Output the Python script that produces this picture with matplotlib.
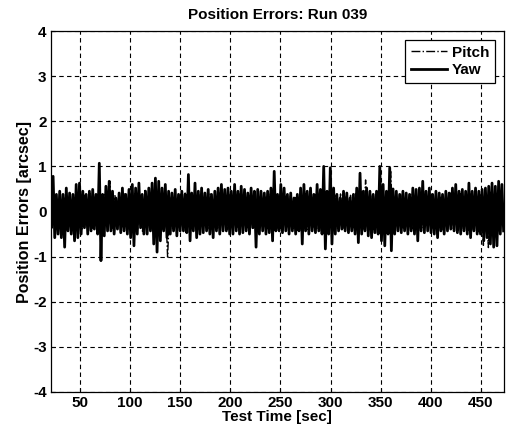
import numpy as np
import matplotlib.pyplot as plt

# yaw error envelope, alternating peaks/troughs every ~3.3 s [arcsec]
yaw_hi = [0.75, 0.78, 0.38, 0.45, 0.38, 0.52, 0.41, 0.38, 0.60, 0.63, 0.45, 0.38,
          0.45, 0.49, 0.38, 1.07, 0.38, 0.56, 0.67, 0.45, 0.30, 0.41, 0.52, 0.38,
          0.49, 0.60, 0.52, 0.63, 0.38, 0.45, 0.52, 0.63, 0.74, 0.67, 0.52, 0.60,
          0.45, 0.41, 0.49, 0.38, 0.45, 0.38, 0.82, 0.41, 0.63, 0.45, 0.52, 0.41,
          0.49, 0.38, 0.45, 0.52, 0.60, 0.49, 0.52, 0.45, 0.60, 0.45, 0.56, 0.49,
          0.41, 0.52, 0.45, 0.49, 0.45, 0.41, 0.45, 0.52, 0.89,
          0.38, 0.60, 0.52, 0.38, 0.41, 0.30, 0.38, 0.52, 0.60, 0.45, 0.52, 0.38,
          0.60, 0.49, 1.00, 0.45, 0.97, 0.52, 0.38, 0.30, 0.45, 0.41, 0.30, 0.38,
          0.52, 0.85, 0.45, 0.52, 0.45, 0.38, 0.45, 1.00, 0.60, 0.45,
          0.97, 0.50, 0.45, 0.38, 0.45, 0.41, 0.38, 0.52, 0.49, 0.52, 0.67, 0.45,
          0.52, 0.38, 0.45, 0.41, 0.38, 0.45, 0.41, 0.52, 0.60, 0.45, 0.49, 0.45,
          0.63, 0.45, 0.52, 0.45, 0.49, 0.52, 0.56, 0.63, 0.56, 0.67, 0.60]
yaw_lo = [-0.36, -0.58, -0.50, -0.58, -0.79, -0.43, -0.50, -0.65, -0.58, -0.50, -0.36, -0.50,
          -0.43, -0.39, -0.50, -1.09, -0.54, -0.43, -0.43, -0.50, -0.39, -0.47, -0.43, -0.50,
          -0.58, -0.76, -0.50, -0.36, -0.50, -0.50, -0.43, -0.72, -0.90, -0.65, -0.43, -0.58,
          -0.50, -0.43, -0.54, -0.43, -0.43, -0.47, -0.65, -0.43, -0.58, -0.50, -0.47, -0.43,
          -0.50, -0.58, -0.43, -0.50, -0.43, -0.43, -0.50, -0.50, -0.43, -0.50, -0.47, -0.43,
          -0.50, -0.36, -0.79, -0.50, -0.43, -0.50, -0.47, -0.65, -0.43,
          -0.43, -0.47, -0.43, -0.50, -0.43, -0.50, -0.43, -0.72, -0.43, -0.50, -0.43, -0.47,
          -0.43, -0.50, -0.83, -0.50, -0.72, -0.50, -0.43, -0.39, -0.43, -0.47, -0.43, -0.50,
          -0.69, -0.50, -0.43, -0.54, -0.58, -0.47, -0.50, -0.65, -0.76, -0.50,
          -0.87, -0.50, -0.43, -0.47, -0.43, -0.50, -0.43, -0.50, -0.65, -0.43, -0.47, -0.43,
          -0.47, -0.50, -0.58, -0.43, -0.50, -0.43, -0.39, -0.43, -0.47, -0.50, -0.43, -0.50,
          -0.58, -0.43, -0.50, -0.50, -0.65, -0.58, -0.72, -0.79, -0.76, -0.50, -0.43]

# pitch error envelope, every 5 s [arcsec]
pitch_hi = [0.40, 0.35, 0.42, 0.30, 0.38, 0.33, 0.45, 0.36, 0.40, 0.32, 0.44, 0.38,
            0.67, 0.35, 0.30, 0.41, 0.36, 0.40, 0.33, 0.50, 0.38, 0.42, 0.35, 0.40,
            0.32, 0.38, 0.35, 0.41, 0.30, 0.37, 0.40, 0.34, 0.39, 0.36, 0.42, 0.31,
            0.38, 0.35, 0.40, 0.33, 0.37, 0.41, 0.36, 0.32, 0.39, 0.35, 0.40, 0.34,
            0.38, 0.31, 0.36, 0.40, 0.35, 0.38, 0.33, 0.41, 0.37, 0.35, 0.39, 0.32,
            0.36, 0.40, 0.34, 0.70, 0.38, 0.35, 0.41, 0.37, 0.89, 0.36, 0.40, 0.33,
            0.38, 0.42, 0.35, 0.39, 0.36, 0.40, 0.34, 0.38, 0.41, 0.35, 0.40, 0.37,
            0.42, 0.36, 0.40, 0.38, 0.43, 0.40, 0.45]
pitch_lo = [-0.35, -0.40, -0.32, -0.38, -0.42, -0.36, -0.40, -0.33, -0.39, -0.45, -0.37, -0.35,
            -0.40, -0.38, -0.34, -0.41, -0.36, -0.39, -0.44, -0.37, -0.40, -0.35, -0.42, -1.01,
            -0.38, -0.35, -0.40, -0.37, -0.33, -0.41, -0.36, -0.39, -0.35, -0.40, -0.38, -0.42,
            -0.34, -0.37, -0.40, -0.36, -0.39, -0.35, -0.41, -0.38, -0.65, -0.37, -0.40, -0.34,
            -0.38, -0.42, -0.36, -0.40, -0.35, -0.39, -0.37, -0.41, -0.34, -0.38, -0.40, -0.36,
            -0.39, -0.35, -0.42, -0.37, -0.40, -0.34, -0.38, -0.41, -0.36, -0.40, -0.37, -0.35,
            -0.39, -0.42, -0.36, -0.40, -0.38, -0.35, -0.41, -0.37, -0.40, -0.44, -0.39, -0.42,
            -0.40, -0.45, -0.75, -0.80, -0.52, -0.45, -0.40]

x_ticks = [50, 100, 150, 200, 250, 300, 350, 400, 450]
y_ticks = [-4, -3, -2, -1, 0, 1, 2, 3, 4]


def zigzag(t_start, t_end, hi, lo):
    # each sample contributes one peak followed by one trough
    t = np.linspace(t_start, t_end, len(hi))
    dt = (t[1] - t[0]) / 2
    ts = np.empty(2 * len(hi))
    vs = np.empty(2 * len(hi))
    ts[0::2] = t
    ts[1::2] = t + dt
    vs[0::2] = hi
    vs[1::2] = lo
    return ts, vs


plt.rcParams['font.family'] = ['Liberation Sans', 'DejaVu Sans']
plt.rcParams['font.weight'] = 'bold'
plt.rcParams['axes.unicode_minus'] = False

fig = plt.figure(figsize=(5.08, 4.26), dpi=100)
ax = fig.add_axes([0.100, 0.080, 0.892, 0.847])

tp, vp = zigzag(20, 470, pitch_hi, pitch_lo)
ty, vy = zigzag(20, 471, yaw_hi, yaw_lo)
ax.plot(tp, vp, color='black', linestyle='-.', linewidth=1.0, label='Pitch')
ax.plot(ty, vy, color='black', linestyle='-', linewidth=2.0, label='Yaw')

ax.set_xlim(21, 473)
ax.set_ylim(-4, 4)
ax.set_xticks(x_ticks)
ax.set_yticks(y_ticks)
ax.tick_params(direction='in', length=3, labelsize=11, colors='black', pad=3)
for lab in ax.get_xticklabels() + ax.get_yticklabels():
    lab.set_fontweight('bold')
ax.grid(True, color='black', linestyle=(0, (4, 3)), linewidth=0.8)
for s in ax.spines.values():
    s.set_linewidth(0.9)

ax.set_title("Position Errors: Run 039", fontsize=11, fontweight='bold', pad=9)
ax.set_xlabel("Test Time [sec]", fontsize=11, fontweight='bold', labelpad=0)
ax.set_ylabel("Position Errors [arcsec]", fontsize=11.5, fontweight='bold', labelpad=1)

leg = ax.legend(loc='upper right', fontsize=11, fancybox=False, framealpha=1,
                edgecolor='black', borderaxespad=0.6, handlelength=2.4,
                handletextpad=0.3, borderpad=0.35, labelspacing=0.25)
leg.get_frame().set_linewidth(0.9)
for txt in leg.get_texts():
    txt.set_fontweight('bold')

fig.savefig("out.png", dpi=100)
